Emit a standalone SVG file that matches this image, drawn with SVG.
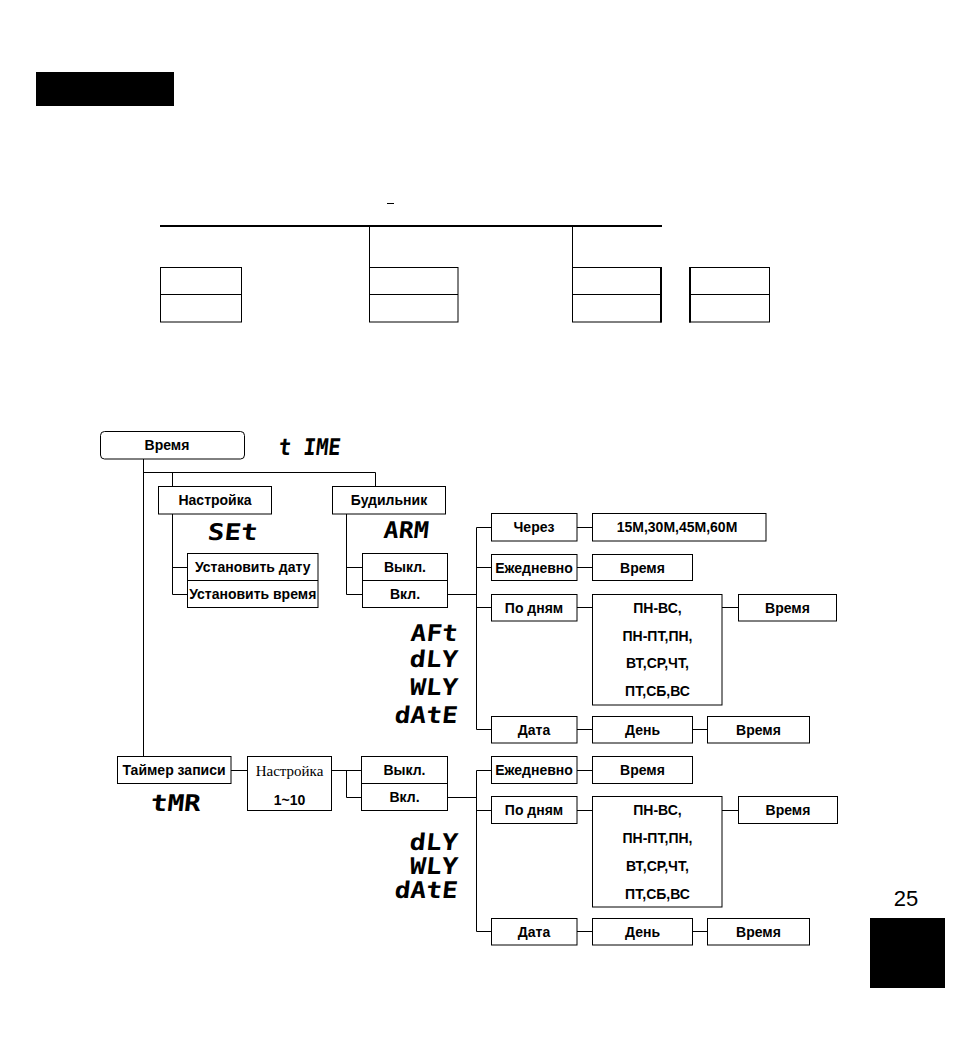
<svg xmlns="http://www.w3.org/2000/svg" width="953" height="1042" viewBox="0 0 953 1042">
<style>
.bx{fill:#fff;stroke:#000;stroke-width:1}
.c{fill:none;stroke:#000;stroke-width:1}
.thick{fill:none;stroke:#000;stroke-width:2}
.t{font-family:"Liberation Sans",Arial,sans-serif;font-size:14px;font-weight:bold;text-anchor:middle;fill:#000}
.sf{font-family:"Liberation Serif","Times New Roman",serif;font-size:15px;text-anchor:middle;fill:#000}
.seg{font-family:"DejaVu Sans Mono",monospace;font-weight:bold;font-size:23px;fill:#000}
.pg{font-family:"Liberation Sans",Arial,sans-serif;font-size:22px;text-anchor:middle;fill:#000}
</style>
<rect width="953" height="1042" fill="#fff"/>
<g id="header">
<rect x="36" y="72" width="138" height="34" fill="#000"/>
<line x1="387" y1="203.5" x2="394" y2="203.5" stroke="#000" stroke-width="1"/>
</g>
<g id="connectors">
<path class="thick" d="M160 226H662"/>
<path class="c" d="M369.5 226V267M572.5 226V267"/>
<path class="c" d="M143.5 459V756.5M143.5 472.5H375.5M172.5 472.5V486.5M375.5 472.5V486.5"/>
<path class="c" d="M172.5 514V594.5M172.5 567.5H187.5M172.5 594.5H187.5"/>
<path class="c" d="M346.5 514V594.5M346.5 567.5H362.5M346.5 594.5H362.5"/>
<path class="c" d="M447.5 594.5H476.5M476.5 527.5V729.5M476.5 527.5H491.5M476.5 567.5H491.5M476.5 607.5H491.5M476.5 729.5H491.5"/>
<path class="c" d="M577 527.5H592.5M577 567.5H592.5M577 607.5H592.5M722 607.5H738.5M577 729.5H592.5M692.5 729.5H707.5"/>
<path class="c" d="M231 770.5H247.5M331.5 770.5H361.5M346.5 770.5V797.5H361.5"/>
<path class="c" d="M447.5 797.5H476.5M476.5 770.5V931.5M476.5 770.5H491.5M476.5 810.5H491.5M476.5 931.5H491.5"/>
<path class="c" d="M577 770.5H592.5M577 810.5H592.5M722 810.5H738.5M577 931.5H592.5M692.5 931.5H707.5"/>
</g>
<g id="top-box-1"><rect class="bx" x="160.5" y="267.5" width="81" height="54.5"/><path class="c" d="M160.5 294.5H241.5"/></g>
<g id="top-box-2"><rect class="bx" x="369.5" y="267.5" width="88.5" height="54.5"/><path class="c" d="M369.5 294.5H458"/></g>
<g id="top-box-3"><rect class="bx" x="572.5" y="267.5" width="88.5" height="54.5"/><path class="c" d="M572.5 294.5H661"/><path class="thick" d="M661 267V322.5"/></g>
<g id="top-box-4"><rect class="bx" x="689.5" y="267.5" width="80" height="54.5"/><path class="c" d="M689.5 294.5H769.5"/><path class="thick" d="M690 267V322.5"/></g>

<g id="vremya"><rect class="bx" x="100.5" y="431.5" width="144" height="27.5" rx="4"/><text class="t" x="167" y="450" font-size="13">Время</text></g>
<g id="code-time" transform="translate(278,455) skewX(-6)"><text class="seg" x="0" y="0" font-size="28" textLength="62" lengthAdjust="spacingAndGlyphs">t IME</text></g>
<g id="nastroyka"><rect class="bx" x="158.5" y="486.5" width="113" height="27.5"/><text class="t" x="215" y="505">Настройка</text></g>
<g id="code-set" transform="translate(207,540) skewX(-6)"><text class="seg" x="0" y="0" font-size="26" textLength="50" lengthAdjust="spacingAndGlyphs">SEt</text></g>
<g id="budilnik"><rect class="bx" x="332.5" y="486.5" width="113" height="27.5"/><text class="t" x="389" y="505">Будильник</text></g>
<g id="code-arm" transform="translate(383,538) skewX(-6)"><text class="seg" x="0" y="0" textLength="45" lengthAdjust="spacingAndGlyphs">ARM</text></g>
<g id="ustanovit"><rect class="bx" x="187.5" y="553.5" width="130.5" height="54"/><path class="c" d="M187.5 580.5H318"/><text class="t" x="252.75" y="572">Установить дату</text><text class="t" x="252.75" y="599">Установить время</text></g>
<g id="vykl-1"><rect class="bx" x="362.5" y="553.5" width="85" height="54"/><path class="c" d="M362.5 580.5H447.5"/><text class="t" x="405" y="572">Выкл.</text><text class="t" x="405" y="599">Вкл.</text></g>
<g id="cherez"><rect class="bx" x="491.5" y="513.5" width="85.5" height="27.5"/><text class="t" x="534" y="532">Через</text></g>
<g id="minutes"><rect class="bx" x="592.5" y="513.5" width="173.5" height="27.5"/><text class="t" x="677" y="532">15M,30M,45M,60M</text></g>
<g id="daily-1"><rect class="bx" x="491.5" y="554.5" width="85.5" height="26"/><text class="t" x="534" y="572.5">Ежедневно</text></g>
<g id="daily-time-1"><rect class="bx" x="592.5" y="554.5" width="100" height="26"/><text class="t" x="642.5" y="572.5">Время</text></g>
<g id="bydays-1"><rect class="bx" x="491.5" y="594.5" width="85.5" height="26.5"/><text class="t" x="534" y="612.5">По дням</text></g>
<g id="days-1"><rect class="bx" x="592.5" y="594.5" width="129.5" height="110.5"/><text class="t" x="657.5" y="612.5">ПН-ВС,</text><text class="t" x="657.5" y="640.5">ПН-ПТ,ПН,</text><text class="t" x="657.5" y="668">ВТ,СР,ЧТ,</text><text class="t" x="657.5" y="695.5">ПТ,СБ,ВС</text></g>
<g id="days-time-1"><rect class="bx" x="738.5" y="594.5" width="98" height="26.5"/><text class="t" x="787.5" y="612.5">Время</text></g>
<g id="codes-1" text-anchor="end">
<g transform="translate(457,641) skewX(-6)"><text class="seg" text-anchor="end" x="0" y="0" textLength="47" lengthAdjust="spacingAndGlyphs">AFt</text></g>
<g transform="translate(457,667) skewX(-6)"><text class="seg" text-anchor="end" x="0" y="0" textLength="48" lengthAdjust="spacingAndGlyphs">dLY</text></g>
<g transform="translate(457,695) skewX(-6)"><text class="seg" text-anchor="end" x="0" y="0" textLength="48" lengthAdjust="spacingAndGlyphs">WLY</text></g>
<g transform="translate(457,723) skewX(-6)"><text class="seg" text-anchor="end" x="0" y="0" textLength="63" lengthAdjust="spacingAndGlyphs">dAtE</text></g>
</g>
<g id="date-1"><rect class="bx" x="491.5" y="716.5" width="85.5" height="26.5"/><text class="t" x="534" y="735">Дата</text></g>
<g id="day-1"><rect class="bx" x="592.5" y="716.5" width="100" height="26.5"/><text class="t" x="642.5" y="735">День</text></g>
<g id="date-time-1"><rect class="bx" x="707.5" y="716.5" width="102" height="26.5"/><text class="t" x="758.5" y="735">Время</text></g>

<g id="timer"><rect class="bx" x="117.5" y="756.5" width="113.5" height="27"/><text class="t" x="174" y="775">Таймер записи</text></g>
<g id="code-tmr" transform="translate(150,811) skewX(-6)"><text class="seg" x="0" y="0" textLength="50" lengthAdjust="spacingAndGlyphs">tMR</text></g>
<g id="nastroyka-2"><rect class="bx" x="247.5" y="756.5" width="84" height="54"/><text class="sf" x="289.5" y="775.5">Настройка</text><text class="t" x="289.5" y="804.5" font-size="13">1~10</text></g>
<g id="vykl-2"><rect class="bx" x="361.5" y="756.5" width="86" height="54"/><path class="c" d="M361.5 783.5H447.5"/><text class="t" x="404.5" y="775">Выкл.</text><text class="t" x="404.5" y="802">Вкл.</text></g>
<g id="daily-2"><rect class="bx" x="491.5" y="756.5" width="85.5" height="27"/><text class="t" x="534" y="775">Ежедневно</text></g>
<g id="daily-time-2"><rect class="bx" x="592.5" y="756.5" width="100" height="27"/><text class="t" x="642.5" y="775">Время</text></g>
<g id="bydays-2"><rect class="bx" x="491.5" y="796.5" width="85.5" height="27"/><text class="t" x="534" y="815">По дням</text></g>
<g id="days-2"><rect class="bx" x="592.5" y="796.5" width="129.5" height="110.5"/><text class="t" x="657.5" y="815">ПН-ВС,</text><text class="t" x="657.5" y="843">ПН-ПТ,ПН,</text><text class="t" x="657.5" y="871">ВТ,СР,ЧТ,</text><text class="t" x="657.5" y="899">ПТ,СБ,ВС</text></g>
<g id="days-time-2"><rect class="bx" x="738.5" y="796.5" width="99" height="27"/><text class="t" x="788" y="815">Время</text></g>
<g id="codes-2">
<g transform="translate(457,850) skewX(-6)"><text class="seg" font-size="21" text-anchor="end" x="0" y="0" textLength="48" lengthAdjust="spacingAndGlyphs">dLY</text></g>
<g transform="translate(457,873.5) skewX(-6)"><text class="seg" font-size="21" text-anchor="end" x="0" y="0" textLength="48" lengthAdjust="spacingAndGlyphs">WLY</text></g>
<g transform="translate(457,898) skewX(-6)"><text class="seg" font-size="21" text-anchor="end" x="0" y="0" textLength="63" lengthAdjust="spacingAndGlyphs">dAtE</text></g>
</g>
<g id="date-2"><rect class="bx" x="491.5" y="918.5" width="85.5" height="26.5"/><text class="t" x="534" y="937">Дата</text></g>
<g id="day-2"><rect class="bx" x="592.5" y="918.5" width="100" height="26.5"/><text class="t" x="642.5" y="937">День</text></g>
<g id="date-time-2"><rect class="bx" x="707.5" y="918.5" width="102" height="26.5"/><text class="t" x="758.5" y="937">Время</text></g>

<g id="page"><text class="pg" x="906" y="906">25</text><rect x="870" y="918" width="75" height="70" fill="#000"/></g>
</svg>
